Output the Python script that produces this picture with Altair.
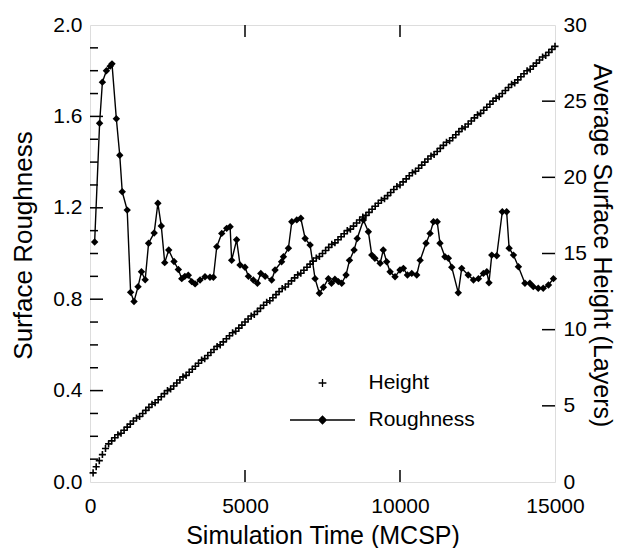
import altair as alt
import pandas as pd

# ---------------- data ----------------
rough_t = [150, 310, 400, 530, 650, 710, 850, 960, 1040, 1200, 1310, 1420, 1550, 1660,
           1780, 1890, 2070, 2190, 2300, 2410, 2540, 2710, 2850, 2960, 3060, 3170, 3280,
           3390, 3550, 3710, 3870, 3980, 4090, 4250, 4410, 4520, 4570, 4730, 4840, 5000,
           5110, 5270, 5400, 5510, 5650, 5860, 5970, 6180, 6240, 6400, 6510, 6670, 6800,
           6940, 7100, 7260, 7400, 7530, 7690, 7790, 7900, 8010, 8120, 8260, 8370, 8520,
           8620, 8820, 8980, 9090, 9190, 9360, 9460, 9570, 9680, 9840, 10000, 10110, 10240,
           10380, 10540, 10650, 10840, 10970, 11080, 11200, 11290, 11450, 11560, 11670,
           11880, 11990, 12200, 12370, 12530, 12690, 12800, 12870, 12960, 13120, 13300,
           13440, 13520, 13660, 13820, 14030, 14190, 14300, 14460, 14620, 14790, 14950]
rough_v = [1.05, 1.57, 1.75, 1.80, 1.82, 1.83, 1.59, 1.43, 1.27, 1.19, 0.83, 0.79, 0.855,
           0.92, 0.885, 1.045, 1.09, 1.22, 1.12, 0.96, 1.015, 0.965, 0.93, 0.89, 0.90,
           0.905, 0.877, 0.867, 0.884, 0.898, 0.896, 0.896, 1.03, 1.088, 1.11, 1.117, 0.97,
           1.06, 0.95, 0.94, 0.90, 0.884, 0.87, 0.913, 0.90, 0.884, 0.928, 0.964, 0.986,
           1.023, 1.139, 1.147, 1.154, 1.066, 1.037, 0.89, 0.826, 0.852, 0.89, 0.87, 0.887,
           0.877, 0.87, 0.906, 0.97, 1.015, 1.066, 1.147, 1.095, 0.993, 0.979, 0.957, 1.015,
           0.964, 0.92, 0.898, 0.928, 0.935, 0.906, 0.913, 0.906, 0.97, 1.045, 1.088, 1.139,
           1.139, 1.045, 0.986, 0.979, 0.94, 0.828, 0.935, 0.906, 0.884, 0.89, 0.913, 0.92,
           0.872, 0.993, 0.99, 1.183, 1.183, 1.023, 0.993, 0.942, 0.87, 0.87, 0.855, 0.848,
           0.848, 0.862, 0.89]

height_t = list(range(100, 15001, 100))
height_v = [0.6, 1.0, 1.4, 1.8, 2.2, 2.5, 2.7, 2.9, 3.1, 3.2, 3.4, 3.6, 3.8, 4.0, 4.2,
            4.3, 4.5, 4.7, 4.9, 5.1, 5.2, 5.4, 5.6, 5.8, 6.0, 6.1, 6.3, 6.5, 6.7, 6.9,
            7.0, 7.2, 7.4, 7.6, 7.8, 8.0, 8.1, 8.3, 8.5, 8.7, 8.9, 9.0, 9.2, 9.4, 9.6,
            9.8, 9.9, 10.1, 10.3, 10.5, 10.7, 10.9, 11.0, 11.2, 11.4, 11.6, 11.8, 11.9, 12.1, 12.3,
            12.5, 12.7, 12.8, 13.0, 13.2, 13.4, 13.6, 13.7, 13.9, 14.1, 14.3, 14.5, 14.7, 14.8, 15.0,
            15.2, 15.4, 15.6, 15.7, 15.9, 16.1, 16.3, 16.5, 16.6, 16.8, 17.0, 17.2, 17.4, 17.5, 17.7,
            17.9, 18.1, 18.3, 18.5, 18.6, 18.8, 19.0, 19.2, 19.4, 19.5, 19.7, 19.9, 20.1, 20.3, 20.4,
            20.6, 20.8, 21.0, 21.2, 21.4, 21.5, 21.7, 21.9, 22.1, 22.3, 22.4, 22.6, 22.8, 23.0, 23.2,
            23.3, 23.5, 23.7, 23.9, 24.1, 24.2, 24.4, 24.6, 24.8, 25.0, 25.2, 25.3, 25.5, 25.7, 25.9,
            26.1, 26.2, 26.4, 26.6, 26.8, 27.0, 27.1, 27.3, 27.5, 27.7, 27.9, 28.0, 28.2, 28.4, 28.6]

series_names = ["Height", "Roughness"]

x_ticks = [0, 5000, 10000, 15000]
x_inner_ticks = [5000, 10000]
left_labels = [0.0, 0.4, 0.8, 1.2, 1.6, 2.0]
left_major_ticks = [0.4, 0.8, 1.2, 1.6]
left_minor_ticks = [0.1, 0.2, 0.3, 0.5, 0.6, 0.7, 0.9, 1.0, 1.1, 1.3, 1.4, 1.5, 1.7, 1.8, 1.9]
right_labels = [0, 5, 10, 15, 20, 25, 30]
right_ticks = [5, 10, 15, 20, 25]

# ---------------- build ----------------
W, H = 465, 457
FONT = "Liberation Sans"

rough_df = pd.DataFrame({"t": rough_t, "r": rough_v})
height_df = pd.DataFrame({"t": height_t, "h": height_v})

xscale = alt.Scale(domain=[0, 15000], nice=False)
yl_scale = alt.Scale(domain=[0, 2.0], nice=False)
yr_scale = alt.Scale(domain=[0, 30], nice=False)

x_enc = alt.X("t:Q", scale=xscale,
              axis=alt.Axis(title="Simulation Time (MCSP)", values=x_ticks, format="d",
                            ticks=False, domain=False, grid=False, labelPadding=13,
                            labelFlush=False,
                            labelFontSize=21, titleFontSize=25,
                            titleBaseline="alphabetic", titleY=61,
                            titleFontWeight="normal", labelFont=FONT, titleFont=FONT,
                            labelColor="black", titleColor="black"))

left_axis = alt.Axis(title="Surface Roughness", orient="left", values=left_labels, format=".1f",
                     ticks=False, domain=False, grid=False, labelPadding=8, labelFlush=False,
                     labelFontSize=21, titleFontSize=26, titlePadding=16, titleY=220,
                     titleFontWeight="normal", labelFont=FONT, titleFont=FONT,
                     labelColor="black", titleColor="black")
right_axis = alt.Axis(title="Average Surface Height (Layers)", orient="right", values=right_labels,
                      format="d", ticks=False, domain=False, grid=False, labelPadding=8,
                      labelFlush=False,
                      labelFontSize=21, titleFontSize=25, titlePadding=2, titleY=220,
                      titleFontWeight="normal", labelFont=FONT, titleFont=FONT,
                      labelColor="black", titleColor="black")

rough_line = alt.Chart(rough_df).mark_line(color="black", strokeWidth=1.4).encode(
    x=x_enc, y=alt.Y("r:Q", scale=yl_scale, axis=left_axis))
rough_pts = alt.Chart(rough_df).mark_point(shape="diamond", filled=True, color="black",
                                           size=55, opacity=1).encode(
    x=alt.X("t:Q", scale=xscale), y=alt.Y("r:Q", scale=yl_scale))

ltick_major = alt.Chart(pd.DataFrame({"v": left_major_ticks})).mark_rule(
    color="black", strokeWidth=1.5).encode(
    y=alt.Y("v:Q", scale=yl_scale), x=alt.value(0), x2=alt.value(13))
ltick_minor = alt.Chart(pd.DataFrame({"v": left_minor_ticks})).mark_rule(
    color="black", strokeWidth=1.5).encode(
    y=alt.Y("v:Q", scale=yl_scale), x=alt.value(0), x2=alt.value(8))
xtick_bottom = alt.Chart(pd.DataFrame({"v": x_inner_ticks})).mark_rule(
    color="black", strokeWidth=1.5).encode(
    x=alt.X("v:Q", scale=xscale), y=alt.value(H), y2=alt.value(H - 12))
xtick_top = alt.Chart(pd.DataFrame({"v": x_inner_ticks})).mark_rule(
    color="black", strokeWidth=1.5).encode(
    x=alt.X("v:Q", scale=xscale), y=alt.value(0), y2=alt.value(12))

# legend symbols as filled outlines (thin bars) so they render with fill only
plus_path = ("M-0.3,-0.05L-0.05,-0.05L-0.05,-0.3L0.05,-0.3L0.05,-0.05L0.3,-0.05"
             "L0.3,0.05L0.05,0.05L0.05,0.3L-0.05,0.3L-0.05,0.05L-0.3,0.05Z")
rough_sym = ("M-2.5,-0.05L2.5,-0.05L2.5,0.05L-2.5,0.05Z"
             "M0,-0.36L0.36,0L0,0.36L-0.36,0Z")
legend_layer = alt.Chart(pd.DataFrame({"series": series_names})).mark_point(
    filled=True, color="black", opacity=1).encode(
    x=alt.value(-500), y=alt.value(-500),
    shape=alt.Shape("series:N",
                    scale=alt.Scale(domain=series_names, range=[plus_path, rough_sym]),
                    legend=alt.Legend(orient="none", legendX=219.5, legendY=345, title=None,
                                      symbolSize=676, labelFontSize=21, labelFont=FONT,
                                      labelColor="black", labelOffset=33, rowPadding=14,
                                      symbolFillColor="black", symbolStrokeWidth=0,
                                      symbolOpacity=1, padding=0,
                                      labelBaseline="middle")))

left_group = alt.layer(rough_line, rough_pts, ltick_major, ltick_minor,
                       xtick_bottom, xtick_top, legend_layer)

height_pts = alt.Chart(height_df).mark_point(
    shape="M-1,0L1,0M0,-1L0,1", filled=False, color="black", size=50, strokeWidth=1.6,
    opacity=1).encode(
    x=alt.X("t:Q", scale=xscale), y=alt.Y("h:Q", scale=yr_scale, axis=right_axis))
rtick = alt.Chart(pd.DataFrame({"v": right_ticks})).mark_rule(
    color="black", strokeWidth=1.5).encode(
    y=alt.Y("v:Q", scale=yr_scale), x=alt.value(W), x2=alt.value(W - 13))

right_group = alt.layer(height_pts, rtick)

chart = alt.layer(left_group, right_group).resolve_scale(y="independent").properties(
    width=W, height=H,
    padding={"left": 82, "top": 17, "right": 62, "bottom": 66},
    autosize=alt.AutoSizeParams(type="none"),
    background="white",
).configure_view(stroke="black", strokeWidth=1.8).configure(font=FONT)

chart.save("out.html", embed_options={"renderer": "svg", "actions": False})
